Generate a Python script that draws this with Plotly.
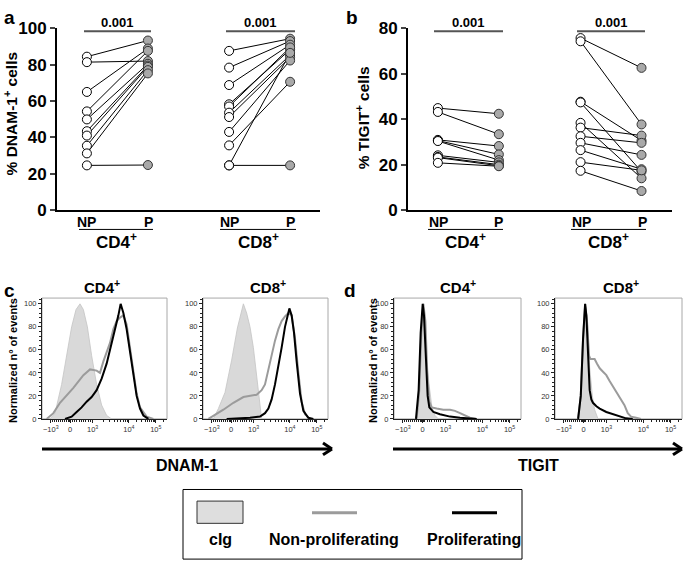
import math
import plotly.graph_objects as go

W, H = 685, 572
FONT = "Liberation Sans"

# ---------------- Panel a data (% DNAM-1+ cells) ----------------
a_groups = ["NP", "P"]
a_cd4_np = [84.4, 81.4, 65.0, 54.3, 49.9, 43.4, 41.0, 35.4, 31.2, 24.6]
a_cd4_p = [93.3, 82.0, 88.9, 87.6, 80.5, 79.5, 78.8, 77.0, 75.2, 24.8]
a_cd8_np = [87.6, 78.4, 68.8, 58.2, 57.0, 53.6, 51.2, 43.0, 35.6, 24.6, 24.6]
a_cd8_p = [94.3, 93.0, 91.0, 88.3, 89.5, 85.3, 84.0, 82.3, 70.6, 86.5, 24.6]

# ---------------- Panel b data (% TIGIT+ cells) ----------------
b_cd4_np = [44.9, 43.2, 30.9, 30.6, 30.4, 24.1, 23.4, 23.1, 20.8]
b_cd4_p = [42.4, 33.4, 28.2, 24.5, 22.0, 21.0, 20.0, 19.5, 19.3]
b_cd8_np = [75.7, 74.3, 47.7, 47.4, 38.4, 36.3, 32.5, 29.6, 26.4, 21.1, 17.3]
b_cd8_p = [62.6, 37.7, 30.6, 16.9, 14.0, 32.8, 29.6, 24.3, 18.0, 17.5, 8.4]

pvalue_text = "0.001"

# ---------------- Histogram data (display channel, normalized % of max) ----------------
# Panel c, CD4
c4_cig_x = [64, 104, 157, 197, 237, 272, 304, 331, 363, 397, 437, 477, 517, 557]
c4_cig_y = [0, 5, 30, 55, 80, 95, 100, 95, 80, 55, 30, 12, 3, 0]
c4_np_x = [37, 91, 144, 197, 251, 331, 384, 437, 464, 491, 517, 544, 571, 597, 624, 651, 677, 704, 731, 757, 784, 837, 891]
c4_np_y = [0, 5, 14, 20, 27, 38, 43, 42, 40, 50, 58, 66, 78, 85, 88, 90, 82, 62, 40, 22, 10, 2, 0]
c4_p_x = [184, 237, 277, 317, 357, 397, 437, 477, 517, 557, 584, 611, 629, 651, 677, 704, 731, 757, 784, 811, 851]
c4_p_y = [0, 2, 6, 10, 15, 19, 25, 35, 48, 65, 78, 90, 100, 92, 78, 58, 38, 20, 9, 3, 0]
# Panel c, CD8
c8_cig_x = [83, 123, 176, 229, 275, 301, 323, 349, 376, 403, 435, 456, 469]
c8_cig_y = [0, 9, 23, 51, 79, 92, 100, 92, 80, 62, 30, 8, 0]
c8_np_x = [43, 109, 163, 243, 323, 429, 469, 496, 523, 549, 576, 603, 629, 656, 683, 709, 736, 763, 789, 816, 856]
c8_np_y = [0, 4, 8, 14, 19, 21, 25, 30, 43, 55, 68, 78, 85, 89, 92, 90, 70, 40, 15, 4, 0]
c8_p_x = [189, 296, 376, 456, 496, 523, 549, 576, 603, 629, 656, 675, 691, 709, 728, 749, 776, 803, 843, 883]
c8_p_y = [0, 0.5, 1, 2, 5, 9, 17, 30, 45, 62, 80, 90, 96, 90, 75, 50, 22, 7, 1, 0]
# Panel d, CD4
d4_cig_x = [178, 199, 215, 231, 247, 262, 278, 299, 323, 349]
d4_cig_y = [0, 20, 70, 100, 75, 45, 28, 10, 3, 0]
d4_np_x = [178, 199, 215, 231, 247, 262, 278, 297, 336, 388, 441, 480, 520, 559, 598, 651]
d4_np_y = [0, 25, 75, 100, 85, 40, 15, 10, 9, 8, 8, 7, 5, 3, 1, 0]
d4_p_x = [173, 194, 210, 226, 236, 252, 265, 278, 310, 362, 441, 520, 598, 651]
d4_p_y = [0, 25, 75, 100, 90, 55, 20, 10, 6, 4, 2, 1, 0.3, 0]
# Panel d, CD8
d8_cig_x = [182, 208, 227, 242, 258, 273, 294, 312, 339]
d8_cig_y = [0, 30, 80, 100, 80, 45, 20, 8, 0]
d8_np_x = [182, 203, 221, 237, 252, 268, 279, 312, 331, 352, 378, 404, 430, 469, 508, 547, 573, 599, 638, 677]
d8_np_y = [0, 20, 70, 98, 85, 55, 52, 52, 48, 44, 41, 38, 33, 26, 20, 12, 5, 2, 1, 0]
d8_p_x = [182, 203, 221, 237, 247, 260, 273, 286, 299, 326, 352, 404, 456, 508, 560, 612]
d8_p_y = [0, 20, 70, 100, 90, 50, 25, 17, 14, 11, 9, 6, 4, 2, 0.5, 0]

# Biexponential axis: display channel of the major ticks
hist_tick_vals = [70, 225, 405, 695, 910]
hist_tick_text = ["\u221210<sup>3</sup>", "0", "10<sup>3</sup>", "10<sup>4</sup>", "10<sup>5</sup>"]

legend_labels = ["cIg", "Non-proliferating", "Proliferating"]

# ---------------- colours ----------------
NP_FILL = "white"
P_FILL = "#a9a9a9"
CIG_FILL = "#d9d9d9"
NP_LINE = "#9b9b9b"
P_LINE = "black"


def px(x):
    return x / W


def py(y):
    return 1 - y / H


fig = go.Figure()

# ---------------- paired plots ----------------
def add_pairs(np_vals, p_vals, x0, xaxis, yaxis):
    for a, b in zip(np_vals, p_vals):
        fig.add_trace(go.Scatter(x=[x0, x0 + 1], y=[a, b], mode="lines",
                                 line=dict(color="black", width=1),
                                 xaxis=xaxis, yaxis=yaxis, showlegend=False, hoverinfo="skip"))
    fig.add_trace(go.Scatter(x=[x0] * len(np_vals), y=np_vals, mode="markers",
                             marker=dict(size=9, color=NP_FILL, line=dict(color="black", width=1)),
                             xaxis=xaxis, yaxis=yaxis, showlegend=False, cliponaxis=False))
    fig.add_trace(go.Scatter(x=[x0 + 1] * len(p_vals), y=p_vals, mode="markers",
                             marker=dict(size=9, color=P_FILL, line=dict(color="#333333", width=1)),
                             xaxis=xaxis, yaxis=yaxis, showlegend=False, cliponaxis=False))


add_pairs(a_cd4_np, a_cd4_p, 0, "x", "y")
add_pairs(a_cd8_np, a_cd8_p, 2.33, "x", "y")
add_pairs(b_cd4_np, b_cd4_p, 0, "x2", "y2")
add_pairs(b_cd8_np, b_cd8_p, 2.34, "x2", "y2")

# ---------------- histograms ----------------
hists = [
    (c4_cig_x, c4_cig_y, c4_np_x, c4_np_y, c4_p_x, c4_p_y, "x3", "y3"),
    (c8_cig_x, c8_cig_y, c8_np_x, c8_np_y, c8_p_x, c8_p_y, "x4", "y4"),
    (d4_cig_x, d4_cig_y, d4_np_x, d4_np_y, d4_p_x, d4_p_y, "x5", "y5"),
    (d8_cig_x, d8_cig_y, d8_np_x, d8_np_y, d8_p_x, d8_p_y, "x6", "y6"),
]
for cx, cy, nx, ny, qx, qy, xa, ya in hists:
    fig.add_trace(go.Scatter(x=cx, y=cy, mode="lines", fill="tozeroy", fillcolor=CIG_FILL,
                             line=dict(color="#c4c4c4", width=0.8), xaxis=xa, yaxis=ya,
                             showlegend=False))
    fig.add_trace(go.Scatter(x=nx, y=ny, mode="lines", line=dict(color=NP_LINE, width=2),
                             xaxis=xa, yaxis=ya, showlegend=False))
    fig.add_trace(go.Scatter(x=qx, y=qy, mode="lines", line=dict(color=P_LINE, width=2),
                             xaxis=xa, yaxis=ya, showlegend=False))

# ---------------- axes ----------------
bold = dict(family=FONT, size=17, color="black", weight="bold")

fig.update_layout(
    width=W, height=H, margin=dict(l=0, r=0, t=0, b=0),
    paper_bgcolor="white", plot_bgcolor="white",
    font=dict(family=FONT, color="black"),
    xaxis=dict(domain=[px(57), px(320)], range=[-0.49, 3.82], showline=True, linecolor="black",
               linewidth=2, showticklabels=False, ticks="", showgrid=False, zeroline=False,
               anchor="y"),
    yaxis=dict(domain=[py(208), py(20)], range=[0, 100], tickmode="array",
               tickvals=[0, 20, 40, 60, 80, 100],
               ticktext=["<b>%d</b>" % v for v in [0, 20, 40, 60, 80, 100]],
               showline=True, linecolor="black", linewidth=2, ticks="outside", ticklen=5,
               tickwidth=2, tickfont=bold, showgrid=False, zeroline=False, anchor="x"),
    xaxis2=dict(domain=[px(408), px(672)], range=[-0.49, 3.84], showline=True, linecolor="black",
                linewidth=2, showticklabels=False, ticks="", showgrid=False, zeroline=False,
                anchor="y2"),
    yaxis2=dict(domain=[py(208), py(20)], range=[0, 80], tickmode="array",
                tickvals=[0, 20, 40, 60, 80],
                ticktext=["<b>%d</b>" % v for v in [0, 20, 40, 60, 80]],
                showline=True, linecolor="black", linewidth=2, ticks="outside", ticklen=5,
                tickwidth=2, tickfont=bold, showgrid=False, zeroline=False, anchor="x2"),
)

# minor tick positions on the biexponential axis
minor_vals = []
for k in range(1, 10):
    minor_vals.append(225 - 155 * k / 10)
    minor_vals.append(225 + 180 * k / 10)
for m in range(2, 10):
    minor_vals.append(405 + (695 - 405) * math.log10(m))
    minor_vals.append(695 + (910 - 695) * math.log10(m))
minor_vals.append(910 + (910 - 695) * math.log10(2))
for d in (-6, -3, 3, 6):
    minor_vals.append(225 + d)

hist_domains = {3: (42, 167), 4: (203, 328), 5: (394, 521), 6: (555, 682)}
for i, (l, r) in hist_domains.items():
    fig.update_layout({
        f"xaxis{i}": dict(domain=[px(l), px(r)], range=[0, 1000], tickmode="array",
                          tickvals=hist_tick_vals, ticktext=hist_tick_text,
                          tickfont=dict(family=FONT, size=7.5, color="#333"),
                          ticks="outside", ticklen=3, tickcolor="#222", showline=True,
                          linecolor="#222", linewidth=1, showgrid=False, zeroline=False,
                          minor=dict(tickmode="array", tickvals=minor_vals, ticks="outside",
                                     ticklen=2, tickcolor="#222"),
                          anchor=f"y{i}"),
        f"yaxis{i}": dict(domain=[py(424), py(299)], range=[0, 105], tickmode="array",
                          tickvals=[0, 20, 40, 60, 80, 100],
                          tickfont=dict(family=FONT, size=7.5, color="#333"),
                          ticks="outside", ticklen=3, tickcolor="#222", showline=True,
                          linecolor="#222", linewidth=1, showgrid=False, zeroline=False,
                          minor=dict(dtick=4, ticks="outside", ticklen=2, tickcolor="#222"),
                          anchor=f"x{i}"),
    })
    # light grey frame
    fig.add_shape(type="rect", xref="paper", yref="paper", x0=px(l), x1=px(r), y0=py(424),
                  y1=py(299), line=dict(color="#a8a8a8", width=1), layer="below")

# ---------------- annotations / decorations ----------------
def text(x, y, s, size=12, angle=0, color="black", xanchor="center"):
    fig.add_annotation(x=px(x), y=py(y), xref="paper", yref="paper", text="<b>" + s + "</b>",
                       showarrow=False, font=dict(family=FONT, size=size, color=color),
                       textangle=angle, xanchor=xanchor, yanchor="middle")


def hline(x0, x1, y, color="black", width=1):
    fig.add_shape(type="line", xref="paper", yref="paper", x0=px(x0), x1=px(x1), y0=py(y),
                  y1=py(y), line=dict(color=color, width=width))


# panel letters
text(9, 9, "a", size=19)
text(352, 9, "b", size=19)
text(9, 291, "c", size=19)
text(350, 291, "d", size=19)

# y titles
text(11, 108, "% DNAM-1<sup>+</sup> cells", size=15.5, angle=-90)
text(363, 113, "% TIGIT<sup>+</sup> cells", size=15.5, angle=-90)
text(13, 364, "Normalized n\u00b0 of events", size=11, angle=-90)
text(373, 364, "Normalized n\u00b0 of events", size=11, angle=-90)

# significance bars
for (x0, x1) in [(84, 151), (226, 295), (434, 503), (577, 645)]:
    hline(x0, x1, 23, color="#555555", width=2)
    text((x0 + x1) / 2, 14, pvalue_text, size=13)

# group labels under paired plots
for np_x, p_x, l0, l1, lab in [(87, 148, 79, 153, "CD4<sup>+</sup>"),
                               (229, 290, 220, 296, "CD8<sup>+</sup>"),
                               (438, 499, 428, 503, "CD4<sup>+</sup>"),
                               (581, 642, 571, 646, "CD8<sup>+</sup>")]:
    text(np_x, 220, a_groups[0], size=14)
    text(p_x, 220, a_groups[1], size=14)
    hline(l0, l1, 228, width=1)
    text((l0 + l1) / 2, 240, lab, size=17)

# histogram titles
for cx, lab in [(102, "CD4<sup>+</sup>"), (268, "CD8<sup>+</sup>"),
                (458, "CD4<sup>+</sup>"), (621, "CD8<sup>+</sup>")]:
    text(cx, 287, lab, size=15)

# big arrows
for x0, x1, lab, lx in [(42, 332, "DNAM-1", 187), (393, 682, "TIGIT", 538)]:
    hline(x0, x1 - 2, 455, width=3)
    for dy in (-6, 6):
        fig.add_shape(type="line", xref="paper", yref="paper", x0=px(x1 - 9), y0=py(455 + dy),
                      x1=px(x1), y1=py(455), line=dict(color="black", width=3))
    text(lx, 472, lab, size=16)

# legend box
fig.add_shape(type="rect", xref="paper", yref="paper", x0=px(183), x1=px(522), y0=py(569),
              y1=py(497), line=dict(color="black", width=1))
fig.add_shape(type="rect", xref="paper", yref="paper", x0=px(197), x1=px(243), y0=py(532),
              y1=py(509), fillcolor="#dedede", line=dict(color="#333", width=1))
hline(312, 357, 521, color=NP_LINE, width=3)
hline(452, 497, 521, color="black", width=3)
text(220, 549, legend_labels[0], size=16)
text(334, 549, legend_labels[1], size=16)
text(474, 549, legend_labels[2], size=16)

fig.write_html("out.html", config={"displayModeBar": False},
               post_script="document.body.style.margin='0';document.body.style.overflow='hidden';")
